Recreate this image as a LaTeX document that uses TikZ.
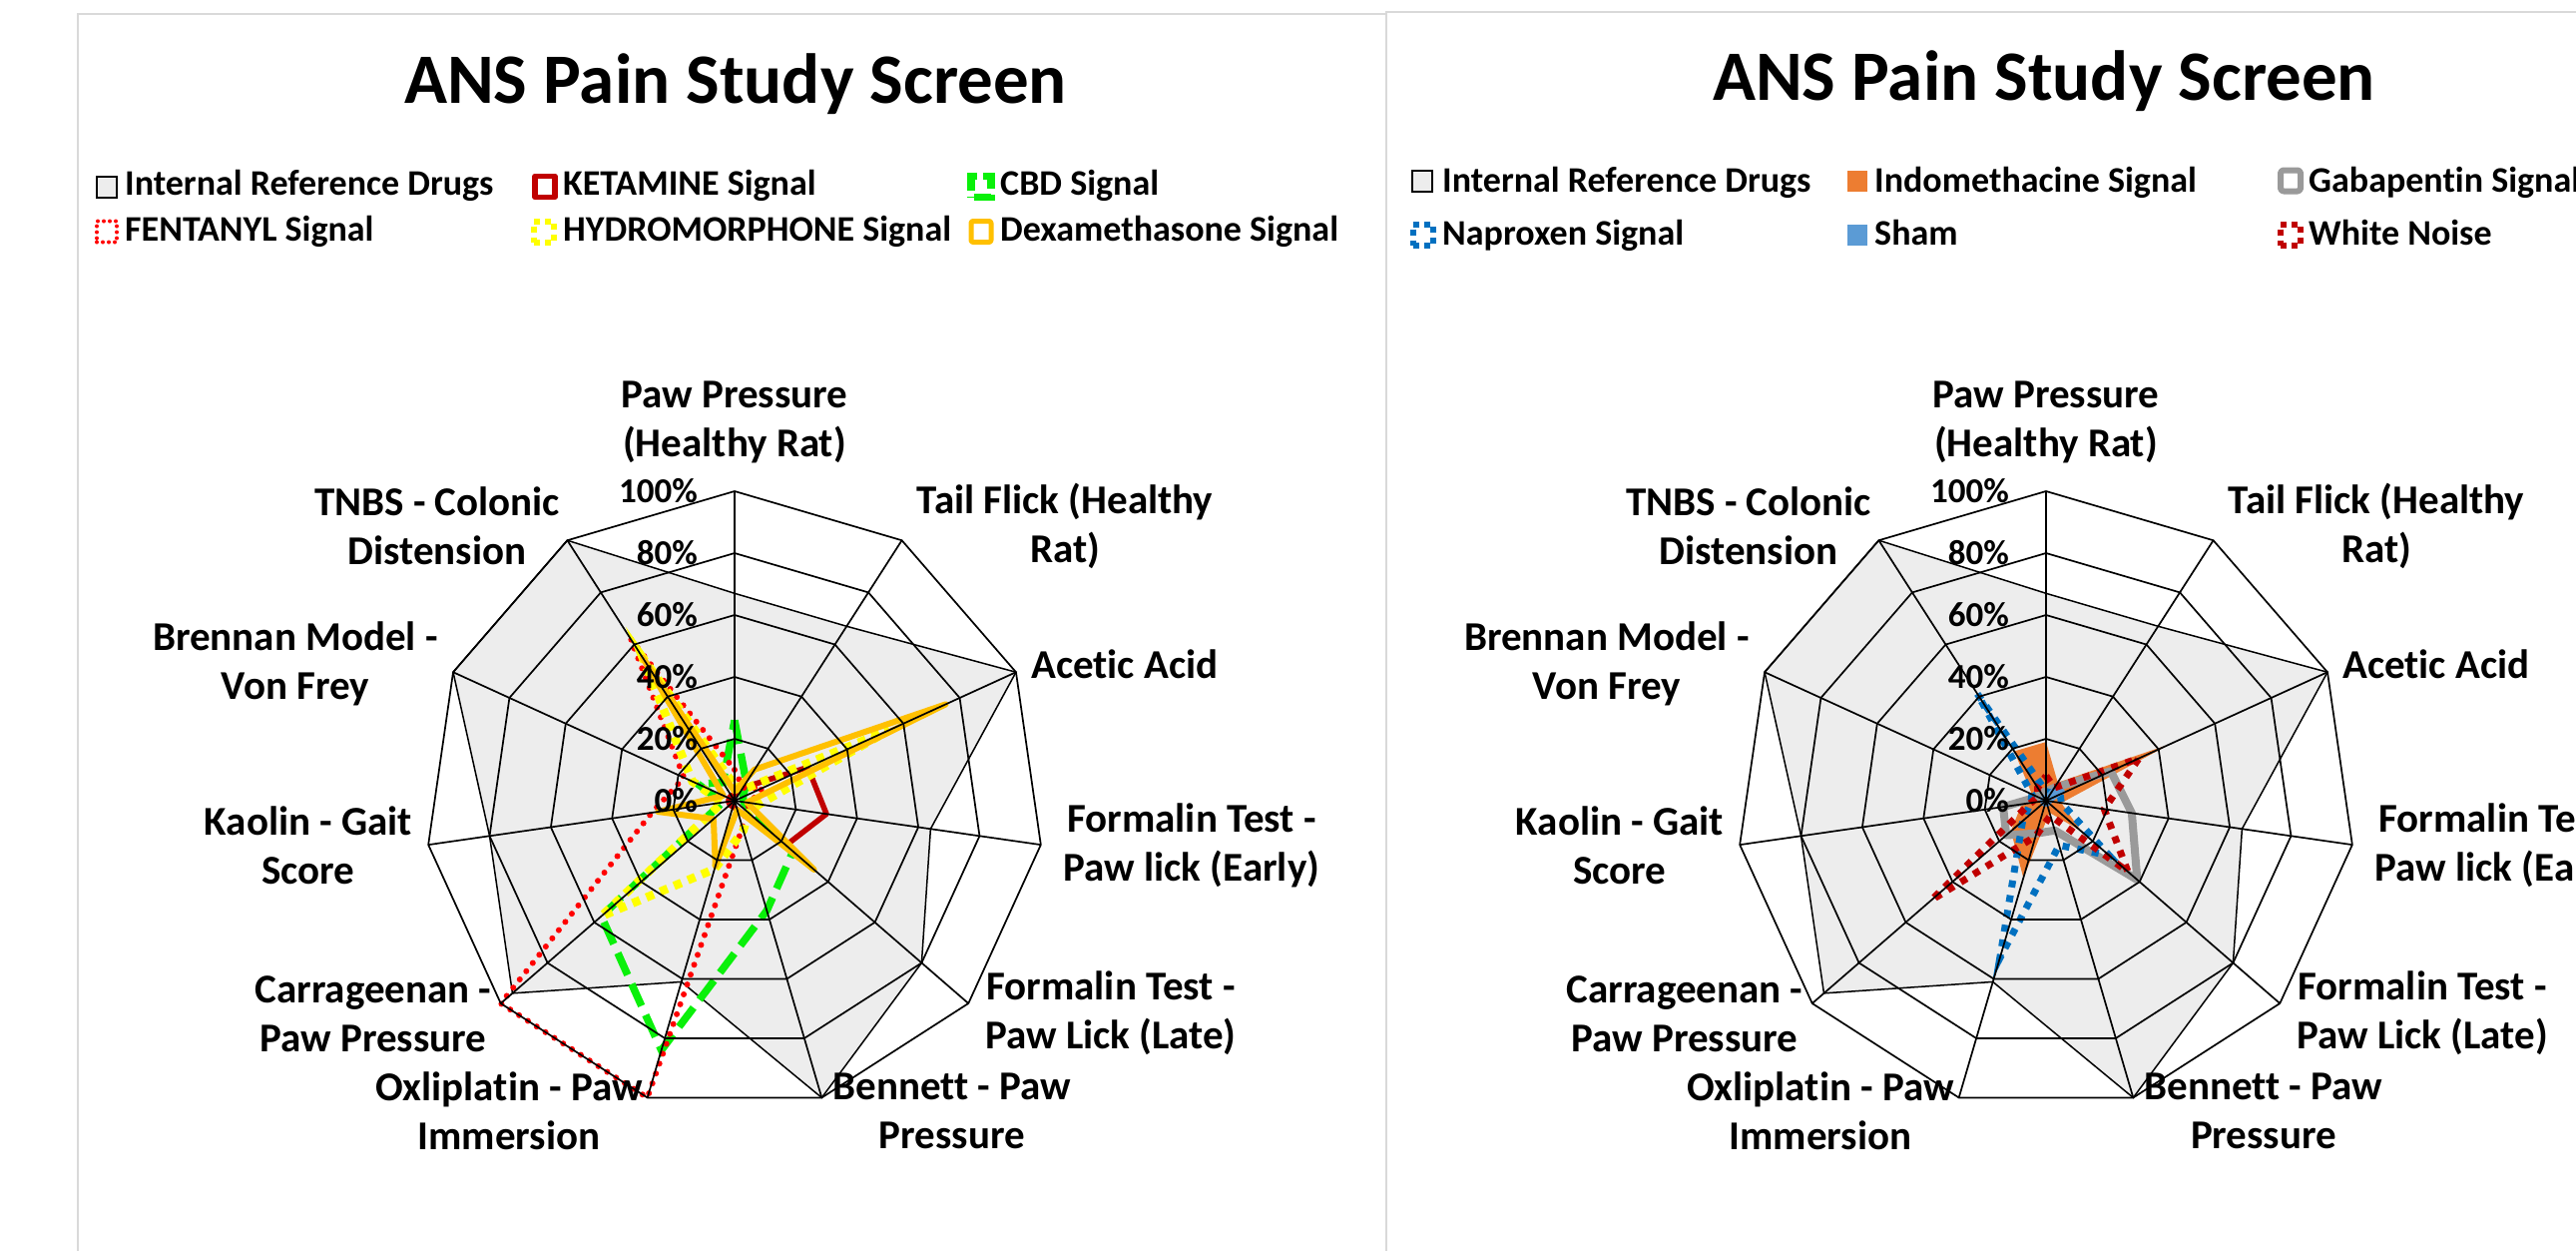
\documentclass[tikz,border=0pt]{standalone}
\usepackage{fontspec}
\setmainfont{Carlito}[Ligatures=CommonOff]
\usetikzlibrary{calc}
\definecolor{refgray}{HTML}{EDEDED}
\definecolor{ketred}{HTML}{C00000}
\definecolor{cbdgreen}{RGB}{10,240,10}
\definecolor{fenred}{HTML}{FF0000}
\definecolor{hydyel}{HTML}{FFFF00}
\definecolor{dexor}{HTML}{FFC000}
\definecolor{indoor}{HTML}{ED7D31}
\definecolor{gabagray}{HTML}{9A9A9A}
\definecolor{napblue}{HTML}{0070C0}
\definecolor{shamblue}{HTML}{5B9BD5}
\definecolor{wnred}{HTML}{C00000}
\definecolor{panelgray}{HTML}{D9D9D9}
\newcommand{\radarseries}[2]{%
  \foreach \v [count=\k from 0] in {#2} {\coordinate (p\k) at ({\k*360/11-90}:{\v*310});}
  \path[#1] (p0)--(p1)--(p2)--(p3)--(p4)--(p5)--(p6)--(p7)--(p8)--(p9)--(p10)--cycle;}
\newcommand{\radargrid}{%
  \foreach \r in {62,124,186,248,310} {\draw[grid] (-90:\r) \foreach \k in {1,...,10} {-- ({\k*360/11-90}:\r)} -- cycle;}
  \foreach \k in {0,...,10} {\draw[grid] (0,0) -- ({\k*360/11-90}:310);}
  \foreach \r/\t in {0/0\%,62/20\%,124/40\%,186/60\%,248/80\%,310/100\%} {\node[pct] at (-37,-\r) {\t};}
}
\begin{document}
\begin{tikzpicture}[x=1pt,y=-1pt,
  grid/.style={draw=black,line width=1.7},
  pct/.style={anchor=east,inner sep=0,font=\fontsize{35}{40}\selectfont\bfseries},
  axl/.style={align=center,inner sep=0,font=\fontsize{41}{49}\selectfont\bfseries},
  leg/.style={anchor=base west,inner sep=0,font=\fontsize{36}{40}\selectfont\bfseries},
  ttl/.style={anchor=base,inner sep=0,font=\fontsize{71}{80}\selectfont\bfseries},
  mk/.style={rectangle,inner sep=0,minimum width=20,minimum height=21},
  refs/.style={fill=refgray,draw=black,line width=1.5},
  kets/.style={draw=ketred,line width=5.5,line join=round},
  cbds/.style={draw=cbdgreen,line width=7.5,dash pattern=on 24pt off 10pt},
  fens/.style={draw=fenred,line width=6,line cap=round,dash pattern=on 0pt off 10.5pt},
  hyds/.style={draw=hydyel,line width=8.5,dash pattern=on 8pt off 7pt},
  dexs/.style={draw=dexor,line width=6,line join=round},
  indos/.style={fill=indoor},
  gabas/.style={draw=gabagray,line width=8,line join=round},
  naps/.style={draw=napblue,line width=7,dash pattern=on 7pt off 8pt},
  shams/.style={fill=shamblue},
  wns/.style={draw=wnred,line width=7,dash pattern=on 7pt off 8pt},
  panel/.style={draw=panelgray,line width=2}]
\useasboundingbox (0,0) rectangle (2581,1253);
\fill[white] (0,0) rectangle (2581,1253);
\draw[panel] (78,1253) -- (78,14) -- (1389,14);
\draw[panel] (1389,1253) -- (1389,12) -- (2581,12);

% ---------- left panel ----------
\node[ttl] (t1) at (737,103) {ANS Pain Study Screen};
\node[mk,refs,line width=2] (m11) at (107,187) {};
\node[leg] (g11) at (125,195) {Internal Reference Drugs};
\node[mk,kets,fill=white] (m12) at (546,187) {};
\node[leg] (g12) at (564,195) {KETAMINE Signal};
\node[mk,cbds,dash pattern=on 20pt off 6pt,dash phase=-3pt] (m13) at (983,187) {};
\node[leg] (g13) at (1002,195) {CBD Signal};
\node[mk,fens,line width=4,dash pattern=on 0pt off 6pt] (m14) at (107,232) {};
\node[leg] (g14) at (125,241) {FENTANYL Signal};
\node[mk,hyds,line width=6,dash pattern=on 6pt off 5pt] (m15) at (545,232) {};
\node[leg] (g15) at (564,241) {HYDROMORPHONE Signal};
\node[mk,dexs,line width=5,rounded corners=2pt] (m16) at (983,232) {};
\node[leg] (g16) at (1002,241) {Dexamethasone Signal};

\begin{scope}[shift={(736,802)}]
  \radarseries{refs}{0.67,0.67,1,0.64,0.8,1,0.61,0.95,0.8,1,1}
  \radarseries{kets}{0.02,0.05,0.26,0.30,0.22,0.03,0.02,0.02,0.02,0.02,0.02}
  \radarseries{cbds}{0.26,0.07,0.03,0.03,0.25,0.37,0.84,0.57,0.04,0.13,0.07}
  \radarseries{fens}{0.10,0.05,0.10,0.05,0.05,0.09,1,1,0.27,0.18,0.62}
  \radarseries{hyds}{0.05,0.04,0.55,0.08,0.06,0.10,0.23,0.57,0.04,0.15,0.55}
  \radarseries{dexs}{0.03,0.12,0.75,0.04,0.34,0.03,0.22,0.09,0.25,0.04,0.55}
  \radargrid
  \node[axl] (la0) at (0,-379) {Paw Pressure\\(Healthy Rat)};
  \node[axl] (la1) at (331,-275) {Tail Flick (Healthy\\Rat)};
  \node[axl,anchor=west] (la2) at (297,-137) {Acetic Acid};
  \node[axl] (la3) at (458,45) {Formalin Test -\\Paw lick (Early)};
  \node[axl] (la4) at (377,213) {Formalin Test -\\Paw Lick (Late)};
  \node[axl] (la5) at (218,311) {Bennett - Paw\\Pressure};
  \node[axl] (la6) at (-226,311) {Oxliplatin - Paw\\Immersion};
  \node[axl] (la7) at (-362,214) {Carrageenan -\\Paw Pressure};
  \node[axl] (la8) at (-427,45) {Kaolin - Gait\\Score};
  \node[axl] (la9) at (-440,-137) {Brennan Model -\\Von Frey};
  \node[axl] (la10) at (-298,-275) {TNBS - Colonic\\Distension};
\end{scope}

% ---------- right panel ----------
\node[ttl] (t2) at (2048,100) {ANS Pain Study Screen};
\node[mk,refs,line width=2] (m21) at (1425,181) {};
\node[leg] (g21) at (1445,192) {Internal Reference Drugs};
\node[mk,indos] (m22) at (1861,181) {};
\node[leg] (g22) at (1878,192) {Indomethacine Signal};
\node[mk,gabas,line width=6,rounded corners=3pt] (m23) at (2295,181) {};
\node[leg] (g23) at (2313,192) {Gabapentin Signal};
\node[mk,naps,line width=6,dash pattern=on 6pt off 5pt] (m24) at (1426,235) {};
\node[leg] (g24) at (1445,245) {Naproxen Signal};
\node[mk,shams] (m25) at (1861,235) {};
\node[leg] (g25) at (1878,245) {Sham};
\node[mk,wns,line width=6,dash pattern=on 6pt off 5pt] (m26) at (2295,235) {};
\node[leg] (g26) at (2313,245) {White Noise};

\begin{scope}[shift={(2050,802)}]
  \radarseries{refs}{0.67,0.67,1,0.64,0.8,1,0.61,0.95,0.8,1,1}
  \radarseries{indos}{0.19,0.07,0.44,0.05,0.15,0.04,0.26,0.15,0.08,0.05,0.19}
  \radarseries{gabas}{0.03,0.05,0.23,0.28,0.39,0.10,0.11,0.17,0.14,0.03,0.03}
  \radarseries{naps}{0.03,0.03,0.05,0.05,0.27,0.15,0.53,0.10,0.05,0.05,0.41}
  \radarseries{shams}{0.02,0.07,0.07,0.02,0.02,0.02,0.02,0.02,0.02,0.02,0.02}
  \radarseries{wns}{0.08,0.05,0.33,0.19,0.35,0.05,0.12,0.49,0.05,0.03,0.05}
  \radargrid
  \node[axl] (ra0) at (0,-379) {Paw Pressure\\(Healthy Rat)};
  \node[axl] (ra1) at (331,-275) {Tail Flick (Healthy\\Rat)};
  \node[axl,anchor=west] (ra2) at (297,-137) {Acetic Acid};
  \node[axl] (ra3) at (458,45) {Formalin Test -\\Paw lick (Early)};
  \node[axl] (ra4) at (377,213) {Formalin Test -\\Paw Lick (Late)};
  \node[axl] (ra5) at (218,311) {Bennett - Paw\\Pressure};
  \node[axl] (ra6) at (-226,311) {Oxliplatin - Paw\\Immersion};
  \node[axl] (ra7) at (-362,214) {Carrageenan -\\Paw Pressure};
  \node[axl] (ra8) at (-427,45) {Kaolin - Gait\\Score};
  \node[axl] (ra9) at (-440,-137) {Brennan Model -\\Von Frey};
  \node[axl] (ra10) at (-298,-275) {TNBS - Colonic\\Distension};
\end{scope}
\end{tikzpicture}
\end{document}
